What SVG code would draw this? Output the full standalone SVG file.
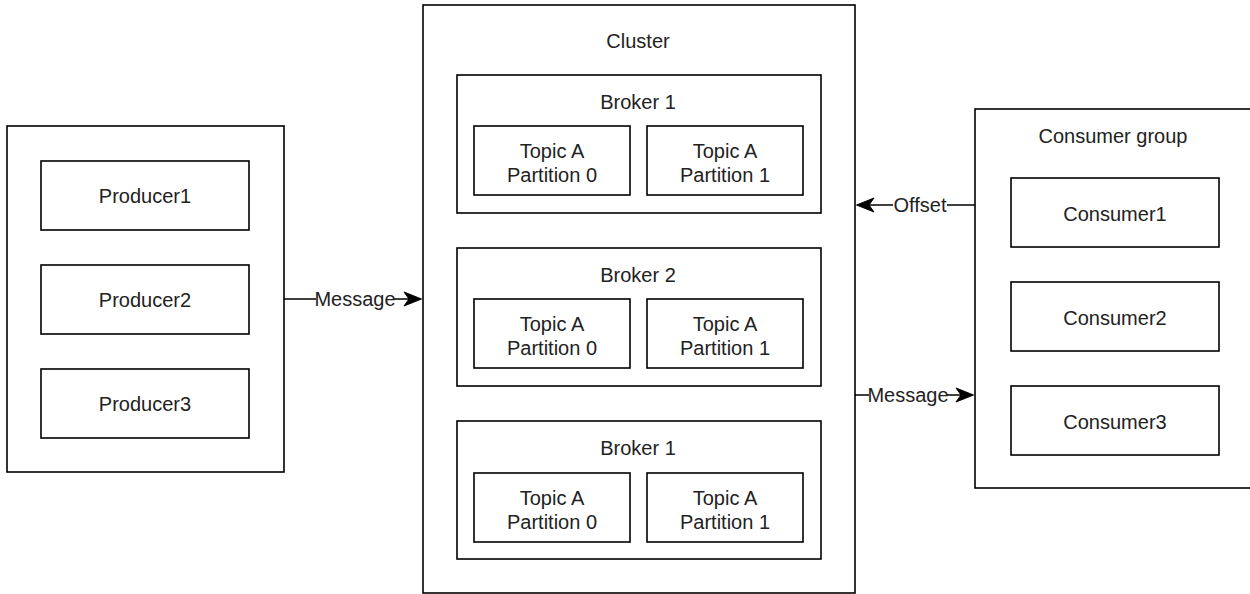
<svg xmlns="http://www.w3.org/2000/svg" width="1250" height="594" viewBox="0 0 1250 594">
<style>
.b{fill:#fff;stroke:#000;stroke-width:1.6}
.t{font-family:"Liberation Sans",Arial,sans-serif;font-size:20px;fill:#222;text-anchor:middle}
.c{stroke:#000;stroke-width:1.6;fill:none}
.h{fill:#000;stroke:#000;stroke-width:1;stroke-linejoin:miter}
.lb{fill:#fff}
</style>
<rect width="1250" height="594" fill="#fff"/>
<g id="producers">
<rect class="b" x="7" y="126" width="277" height="346"/>
</g>
<g id="producer1"><rect class="b" x="41" y="161" width="208" height="69"/><text class="t" x="145" y="203">Producer1</text></g>
<g id="producer2"><rect class="b" x="41" y="265" width="208" height="69"/><text class="t" x="145" y="307">Producer2</text></g>
<g id="producer3"><rect class="b" x="41" y="369" width="208" height="69"/><text class="t" x="145" y="411">Producer3</text></g>

<g id="cluster"><rect class="b" x="423" y="5" width="432" height="588"/><text class="t" x="638" y="48">Cluster</text></g>

<g id="broker1"><rect class="b" x="457" y="75" width="364" height="138"/><text class="t" x="638" y="109">Broker 1</text></g>
<g id="b1p0"><rect class="b" x="474" y="126" width="156" height="69"/><text class="t" x="552" y="158">Topic A</text><text class="t" x="552" y="182">Partition 0</text></g>
<g id="b1p1"><rect class="b" x="647" y="126" width="156" height="69"/><text class="t" x="725" y="158">Topic A</text><text class="t" x="725" y="182">Partition 1</text></g>

<g id="broker2"><rect class="b" x="457" y="248" width="364" height="138"/><text class="t" x="638" y="282">Broker 2</text></g>
<g id="b2p0"><rect class="b" x="474" y="299" width="156" height="69"/><text class="t" x="552" y="331">Topic A</text><text class="t" x="552" y="355">Partition 0</text></g>
<g id="b2p1"><rect class="b" x="647" y="299" width="156" height="69"/><text class="t" x="725" y="331">Topic A</text><text class="t" x="725" y="355">Partition 1</text></g>

<g id="broker3"><rect class="b" x="457" y="421" width="364" height="138"/><text class="t" x="638" y="455">Broker 1</text></g>
<g id="b3p0"><rect class="b" x="474" y="473" width="156" height="69"/><text class="t" x="552" y="505">Topic A</text><text class="t" x="552" y="529">Partition 0</text></g>
<g id="b3p1"><rect class="b" x="647" y="473" width="156" height="69"/><text class="t" x="725" y="505">Topic A</text><text class="t" x="725" y="529">Partition 1</text></g>

<g id="consumers"><rect class="b" x="975" y="109" width="285" height="379"/><text class="t" x="1113" y="143">Consumer group</text></g>
<g id="consumer1"><rect class="b" x="1011" y="178" width="208" height="69"/><text class="t" x="1115" y="221">Consumer1</text></g>
<g id="consumer2"><rect class="b" x="1011" y="282" width="208" height="69"/><text class="t" x="1115" y="325">Consumer2</text></g>
<g id="consumer3"><rect class="b" x="1011" y="386" width="208" height="69"/><text class="t" x="1115" y="429">Consumer3</text></g>

<g id="connectors">
<line class="c" x1="284" y1="299" x2="410" y2="299"/>
<polygon class="h" points="421.5,299 404,292 409,299 404,306"/>
<rect class="lb" x="316" y="288" width="78" height="22"/>
<text class="t" x="355" y="306">Message</text>
<line class="c" x1="975" y1="205" x2="866" y2="205"/>
<polygon class="h" points="856.5,205 874,198 869,205 874,212"/>
<rect class="lb" x="893" y="194" width="54" height="22"/>
<text class="t" x="920" y="212">Offset</text>
<line class="c" x1="855" y1="395" x2="964" y2="395"/>
<polygon class="h" points="973.5,395 956,388 961,395 956,402"/>
<rect class="lb" x="869" y="384" width="78" height="22"/>
<text class="t" x="908" y="402">Message</text>
</g>
</svg>
